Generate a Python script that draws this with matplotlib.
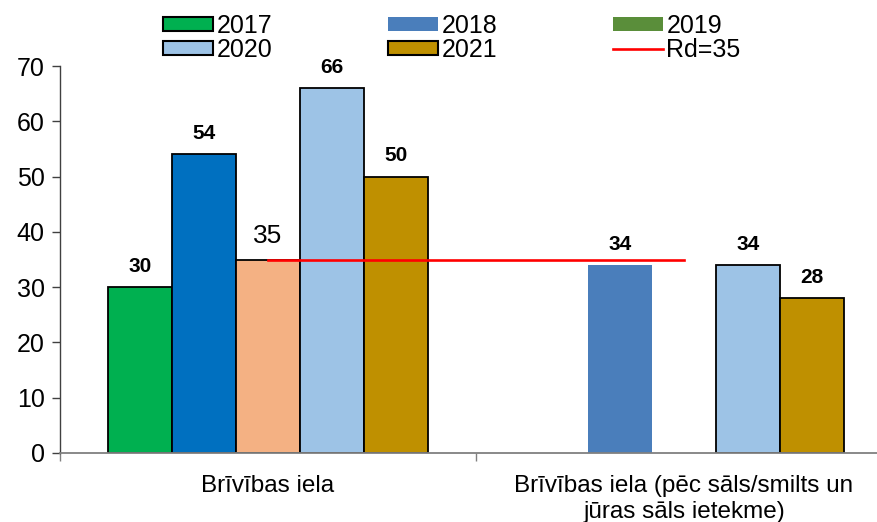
import numpy as np
import matplotlib
matplotlib.use('Agg')
import matplotlib.pyplot as plt
from matplotlib.patches import Patch
from matplotlib.lines import Line2D

plt.rcParams['font.family'] = ['Liberation Sans', 'DejaVu Sans']

# DATA
categories = ['Brīvības iela', 'Brīvības iela (pēc sāls/smilts un\njūras sāls ietekme)']
years = ['2017', '2018', '2019', '2020', '2021']
values = [[30, np.nan],    # 2017
          [54, 34],        # 2018
          [35, np.nan],    # 2019
          [66, 34],        # 2020
          [50, 28]]        # 2021
rd_value = 35
rd_label = 'Rd=35'

# styles per year and category (bar fill, edge)
bar_colors = [['#00B050', '#00B050'],
              ['#0070C0', '#4A7EBB'],
              ['#F4B183', '#F4B183'],
              ['#9DC3E6', '#9DC3E6'],
              ['#BF9000', '#BF9000']]
bar_edges = [['black', 'black'],
             ['black', 'none'],
             ['black', 'black'],
             ['black', 'black'],
             ['black', 'black']]
legend_colors = ['#00B050', '#4A7EBB', '#5A8E3A', '#9DC3E6', '#BF9000']
legend_edges = ['black', 'none', 'none', 'black', 'black']

fig = plt.figure(figsize=(8.77, 5.22), dpi=100)
ax = fig.add_axes([60/877, 69/522, 832/877, 387/522])

x = np.arange(len(categories))
w = 0.154
for i, (yr, vals) in enumerate(zip(years, values)):
    for j, v in enumerate(vals):
        if np.isnan(v):
            continue
        ax.bar(x[j] + (i-2)*w, v, w, color=bar_colors[i][j],
               edgecolor=bar_edges[i][j], linewidth=1.3, zorder=2)
        if i == 2 and j == 0:
            # Rd value label on the 2019 bar
            ax.annotate('{:g}'.format(v), (x[j] + (i-2)*w, v), xytext=(0, 17),
                        textcoords='offset points', ha='center', va='center',
                        fontsize=19)
        else:
            ax.annotate('{:g}'.format(v), (x[j] + (i-2)*w, v), xytext=(0, 15),
                        textcoords='offset points', ha='center', va='center',
                        fontsize=15, fontweight='bold')

ax.plot([x[0], x[1]], [rd_value, rd_value], color='#FF0000', lw=1.9, zorder=3)

ax.set_xlim(-0.5, 1.5)
ax.set_ylim(0, 70)
ax.set_yticks(np.arange(0, 71, 10))
ax.set_xticks(x)
ax.set_xticklabels(categories, fontsize=17.5)
ax.set_xticks([-0.5, 0.5, 1.5], minor=True)
ax.tick_params(axis='x', which='major', length=0, pad=16)
ax.tick_params(axis='x', which='minor', length=6, width=1, color='#808080')
ax.tick_params(axis='y', labelsize=18, length=6, width=1, color='#404040', pad=5)
ax.spines['top'].set_visible(False)
ax.spines['right'].set_visible(False)
ax.spines['left'].set_color('#404040')
ax.spines['bottom'].set_color('#808080')
ax.spines['left'].set_linewidth(1)
ax.spines['bottom'].set_linewidth(1.3)

handles = [Patch(facecolor=c, edgecolor=e, linewidth=1.5) for c, e in zip(legend_colors, legend_edges)]
handles.append(Line2D([0], [0], color='#FF0000', lw=1.9))
labels = years + [rd_label]
# legend fills column by column: reorder so rows read 2017 2018 2019 / 2020 2021 Rd
order = [0, 3, 1, 4, 2, 5]
fig.legend([handles[k] for k in order], [labels[k] for k in order],
           loc='upper left', bbox_to_anchor=(163/877, 1 - 14/522),
           ncol=3, frameon=False, fontsize=18, borderpad=0, borderaxespad=0,
           handlelength=2.0, handleheight=0.52, handletextpad=0.16,
           columnspacing=4.6, labelspacing=0.0)

plt.savefig('out.png', dpi=100)
